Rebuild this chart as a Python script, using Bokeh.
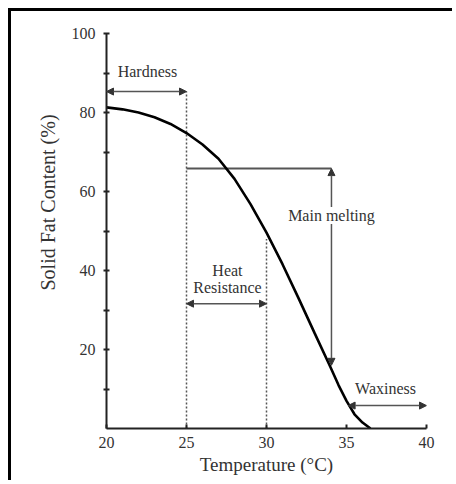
from bokeh.plotting import figure
from bokeh.models import Range1d, FixedTicker, Arrow, NormalHead, Label, Title
from bokeh.embed import file_html
from bokeh.resources import INLINE

# ---- data ----
temperature = [20, 21, 22, 23, 24, 25, 26, 27, 28, 29, 30, 31, 32, 33, 34, 34.5, 35, 35.5, 36, 36.5]
solid_fat = [81.3, 80.8, 80.0, 78.8, 77.1, 74.8, 71.9, 68.3, 63.2, 56.8, 49.6, 41.6, 33.0, 24.2, 15.5, 11.0, 7.0, 3.6, 1.5, 0.0]

x_tick_values = [20, 25, 30, 35, 40]
y_tick_values = [20, 40, 60, 80, 100]
y_minor_values = [10, 30, 50, 70, 90]

# range annotations (temperature spans, SFC levels)
hardness_span = [20, 25]
hardness_level = 85.3
heat_span = [25, 30]
heat_level = 31.6
waxiness_span = [35.1, 40]
waxiness_level = 5.8
melting_temp = 34.06
melting_span = [65.8, 16.0]
melting_start = 25
guide_temps = [25, 30]
guide_tops = [85.3, 48.0]

label_texts = ["Hardness", "Heat", "Resistance", "Main melting", "Waxiness"]
label_x = [20.7, 27.56, 27.56, 34.06, 37.44]
label_y = [90.4, 40.0, 35.7, 53.9, 10.1]
label_align = ["left", "center", "center", "center", "center"]

x_title = "Temperature (°C)"
y_title = "Solid Fat Content  (%)"

FONT = "Liberation Serif"
INK = "#333333"
GUIDE = "#555555"

p = figure(width=444, height=472, output_backend="svg", toolbar_location=None,
           x_range=Range1d(20, 40), y_range=Range1d(0, 100),
           min_border_left=95, min_border_right=29, min_border_top=22, min_border_bottom=55)
p.styles = {"margin-left": "8px", "margin-top": "8px",
            "border-top": "3px solid black", "border-left": "3px solid black"}
p.outline_line_color = None
p.xgrid.visible = False
p.ygrid.visible = False
p.background_fill_color = "white"
p.border_fill_color = "white"

# axes
p.xaxis.ticker = FixedTicker(ticks=x_tick_values)
p.yaxis.ticker = FixedTicker(ticks=y_tick_values, minor_ticks=y_minor_values)
for ax in (p.xaxis[0], p.yaxis[0]):
    ax.axis_line_color = "#222222"
    ax.axis_line_width = 2
    ax.major_tick_line_color = "#222222"
    ax.minor_tick_line_color = "#222222"
    ax.major_tick_line_width = 2
    ax.minor_tick_line_width = 2
    ax.major_label_text_font = FONT
    ax.major_label_text_font_size = "16px"
    ax.major_label_text_color = INK
    ax.axis_label_text_font = FONT
    ax.axis_label_text_font_style = "normal"
    ax.axis_label_text_color = INK
p.xaxis.major_tick_in = 4
p.xaxis.major_tick_out = 0
p.xaxis.minor_tick_in = 0
p.xaxis.minor_tick_out = 0
p.xaxis.major_label_standoff = 8
p.xaxis.axis_label = x_title
p.xaxis.axis_label_text_font_size = "19px"
p.xaxis.axis_label_standoff = 3
p.yaxis.major_tick_in = 3
p.yaxis.major_tick_out = 3
p.yaxis.minor_tick_in = 3
p.yaxis.minor_tick_out = 3
p.yaxis.major_label_standoff = 8

# y-axis title, placed higher than centre as in the reference
p.add_layout(Title(text=y_title, align="left", offset=138, standoff=19,
                   text_font=FONT, text_font_size="20px", text_font_style="normal",
                   text_color=INK), "left")

# dotted guide lines
p.segment(x0=guide_temps, y0=[0, 0], x1=guide_temps, y1=guide_tops,
          line_color=GUIDE, line_width=1.5, line_dash="2 2")
# main melting horizontal line
p.segment(x0=[melting_start], y0=[melting_span[0]], x1=[melting_temp], y1=[melting_span[0]],
          line_color=GUIDE, line_width=2)

# curve
p.line(temperature, solid_fat, line_color="black", line_width=2.6)

def dbl_arrow(x0, y0, x1, y1):
    p.add_layout(Arrow(start=NormalHead(size=7, fill_color="#333333", line_color="#333333"),
                       end=NormalHead(size=7, fill_color="#333333", line_color="#333333"),
                       x_start=x0, y_start=y0, x_end=x1, y_end=y1,
                       line_color="#555555", line_width=1.5))

dbl_arrow(hardness_span[0], hardness_level, hardness_span[1], hardness_level)
dbl_arrow(heat_span[0], heat_level, heat_span[1], heat_level)
dbl_arrow(waxiness_span[0], waxiness_level, waxiness_span[1], waxiness_level)
dbl_arrow(melting_temp, melting_span[0], melting_temp, melting_span[1])

for t, x, y, a in zip(label_texts, label_x, label_y, label_align):
    kw = {}
    if t == "Main melting":
        kw = dict(background_fill_color="white", background_fill_alpha=1.0)
    p.add_layout(Label(x=x, y=y, text=t, text_align=a, text_baseline="middle",
                       text_font=FONT, text_font_size="16px", text_color=INK, **kw))

open("out.html", "w").write(file_html(p, INLINE))
